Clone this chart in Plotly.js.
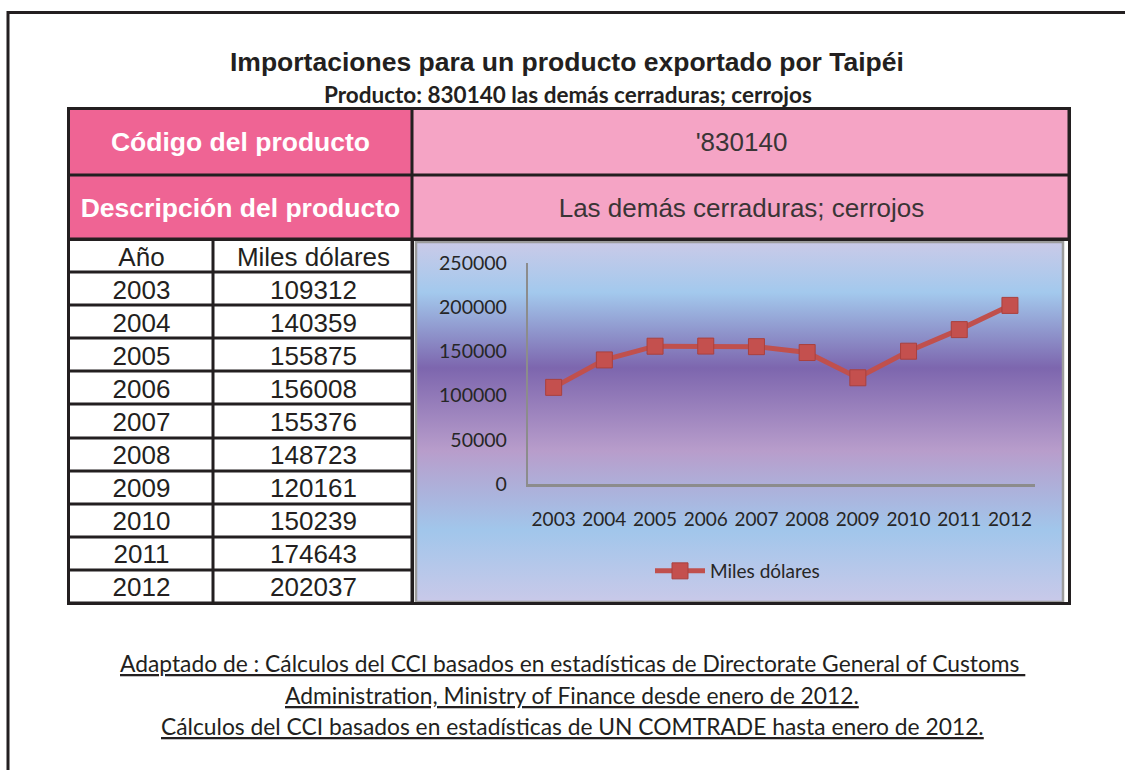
<!DOCTYPE html>
<html>
<head>
<meta charset="utf-8">
<script src="https://cdn.plot.ly/plotly-3.0.1.min.js"></script>
<style>
html,body{margin:0;padding:0;background:#ffffff;}
#chart{width:1125px;height:770px;}
</style>
</head>
<body>
<div id="chart"></div>
<script>
// ---------------- data ----------------
const years = ['2003','2004','2005','2006','2007','2008','2009','2010','2011','2012'];
const values = [109312,140359,155875,156008,155376,148723,120161,150239,174643,202037];
const seriesName = 'Miles dólares';
const tableHeaders = ['Año','Miles dólares'];
const infoLabels = ['Código del producto','Descripción del producto'];
const infoValues = ["'830140",'Las demás cerraduras; cerrojos'];
const titleText = 'Importaciones para un producto exportado por Taipéi';
const subtitleText = 'Producto: 830140 las demás cerraduras; cerrojos';
const sourceLines = [
  'Adaptado de : Cálculos del CCI basados en estadísticas de Directorate General of Customs\u00a0',
  'Administration, Ministry of Finance desde enero de 2012.',
  'Cálculos del CCI basados en estadísticas de UN COMTRADE hasta enero de 2012.'
];
const yTicks = [0,50000,100000,150000,200000,250000];

// ---------------- layout helpers ----------------
const W = 1125, H = 770;
const px = x => x / W;
const py = y => 1 - y / H;
const INK = '#231F20';
const ARIAL = 'Liberation Sans, Arial, sans-serif';
const CALIBRI = 'Lato, Open Sans, sans-serif';

// table geometry (pixels)
const T = {left:68.5, mid:412.5, right:1069.5, top:108.5, infoBottom:239.5, bottom:603.5, yearCol:145, row1:66.5};

// ---------------- traces ----------------
const infoYEdges = [0, T.row1, T.infoBottom - T.top];
const infoXEdges = [0, T.mid - T.left, T.right - T.left];

const infoLeft = {
  type:'heatmap', xaxis:'x2', yaxis:'y2', hoverinfo:'skip', showlegend:false, showscale:false,
  x: infoXEdges, y: infoYEdges,
  z: infoLabels.map(() => [1, null]),
  text: infoLabels.map(l => [l, '']),
  texttemplate:'<b>%{text}</b>',
  textfont:{family:ARIAL, size:26.5, color:'#FFFFFF'},
  colorscale:[[0,'#EF6494'],[1,'#EF6494']], zmin:0, zmax:1,
  xgap:3, ygap:3
};
const infoRight = {
  type:'heatmap', xaxis:'x2', yaxis:'y2', hoverinfo:'skip', showlegend:false, showscale:false,
  x: infoXEdges, y: infoYEdges,
  z: infoValues.map(() => [null, 1]),
  text: infoValues.map(v => ['', v]),
  texttemplate:'%{text}',
  textfont:{family:ARIAL, size:26, color:'#3A3536'},
  colorscale:[[0,'#F5A4C5'],[1,'#F5A4C5']], zmin:0, zmax:1,
  xgap:3, ygap:3
};

const dataRows = [tableHeaders].concat(years.map((yr, i) => [yr, String(values[i])]));
const dataTable = {
  type:'heatmap', xaxis:'x3', yaxis:'y3', hoverinfo:'skip', showlegend:false, showscale:false,
  x:[0, T.yearCol, T.mid - T.left],
  y: dataRows.map((_, i) => i).concat([dataRows.length]),
  z: dataRows.map(() => [0, 0]),
  text: dataRows,
  texttemplate:'%{text}',
  textfont:{family:ARIAL, size:26, color:INK},
  colorscale:[[0,'#FFFFFF'],[1,'#FFFFFF']], zmin:0, zmax:1,
  xgap:3, ygap:3
};

const line = {
  type:'scatter', mode:'lines+markers', name: seriesName,
  x: years, y: values, xaxis:'x', yaxis:'y', hoverinfo:'skip',
  line:{color:'#C0504D', width:5},
  marker:{symbol:'square', size:16, color:'#C4504E', line:{color:'#A9403E', width:1}}
};

// gradient background of chart area
const gradSvg = "<svg xmlns='http://www.w3.org/2000/svg' width='648' height='361' preserveAspectRatio='none'>" +
  "<defs><linearGradient id='g' x1='0' y1='0' x2='0' y2='1'>" +
  "<stop offset='0' stop-color='#CACAE8'/>" +
  "<stop offset='0.14' stop-color='#A3C9ED'/>" +
  "<stop offset='0.35' stop-color='#7D66AE'/>" +
  "<stop offset='0.58' stop-color='#B89DCB'/>" +
  "<stop offset='0.80' stop-color='#A1C6EB'/>" +
  "<stop offset='1' stop-color='#C9C9E9'/>" +
  "</linearGradient></defs><rect x='0' y='0' width='648' height='361' fill='url(#g)'/></svg>";

const G = {l:416, t:242, r:1063, b:602};

const rect = (x0,y0,x1,y1,color,width) => ({type:'rect', xref:'paper', yref:'paper',
  x0:px(x0), y0:py(y0), x1:px(x1), y1:py(y1), line:{color:color, width:width}, fillcolor:'rgba(0,0,0,0)'});

const note = (text, x, y, font) => ({text:text, xref:'paper', yref:'paper', x:px(x), y:py(y),
  xanchor:'center', yanchor:'middle', showarrow:false, font:font});

const layout = {
  width:W, height:H, margin:{l:0,r:0,t:0,b:0},
  paper_bgcolor:'#FFFFFF', plot_bgcolor:INK,
  showlegend:true,
  legend:{x:px(650), y:py(571), xanchor:'left', yanchor:'middle', bgcolor:'rgba(0,0,0,0)',
    font:{family:CALIBRI, size:19, color:'#262626'}, itemwidth:50},
  xaxis:{domain:[px(528.3), px(1035.3)], type:'category', range:[-0.5, 9.5], anchor:'y',
    showgrid:false, zeroline:false, showline:true, linecolor:'#8C8C8C', linewidth:3,
    ticks:'', ticklabelstandoff:16, tickfont:{family:CALIBRI, size:19, color:'#262626'}, fixedrange:true},
  yaxis:{domain:[py(484), py(263)], range:[0, 250000], tickvals:yTicks, tickformat:'d', anchor:'x',
    showgrid:false, zeroline:false, showline:true, linecolor:'#8C8C8C', linewidth:2.5,
    ticks:'', ticklabelstandoff:15, tickfont:{family:CALIBRI, size:19.5, color:'#262626'}, fixedrange:true},
  xaxis2:{domain:[px(T.left), px(T.right)], range:[0, T.right - T.left], visible:false, anchor:'y2', fixedrange:true},
  yaxis2:{domain:[py(T.infoBottom), py(T.top)], range:[T.infoBottom - T.top, 0], visible:false, anchor:'x2', fixedrange:true},
  xaxis3:{domain:[px(T.left), px(T.mid)], range:[0, T.mid - T.left], visible:false, anchor:'y3', fixedrange:true},
  yaxis3:{domain:[py(T.bottom), py(T.infoBottom)], range:[dataRows.length, 0], visible:false, anchor:'x3', fixedrange:true},
  images:[{source:'data:image/svg+xml;charset=utf-8,' + encodeURIComponent(gradSvg),
    xref:'paper', yref:'paper', x:px(G.l), y:py(G.t), sizex:px(G.r - G.l), sizey:(G.b - G.t)/H,
    xanchor:'left', yanchor:'top', sizing:'stretch', layer:'below'}],
  shapes:[
    {type:'path', xref:'paper', yref:'paper',
      path:'M' + px(8) + ',' + py(772) + ' L' + px(8) + ',' + py(12.5) + ' L' + px(1127) + ',' + py(12.5),
      line:{color:INK, width:3}},
    rect(G.l, G.t, G.r, G.b, '#9C9C9C', 2.5),
    rect(T.left, T.top, T.right, T.infoBottom, INK, 3),
    rect(T.left, T.infoBottom, T.mid, T.bottom, INK, 3),
    rect(T.mid, T.infoBottom, T.right, T.bottom, INK, 3)
  ],
  annotations:[
    note('<b>' + titleText + '</b>', 567, 62, {family:ARIAL, size:26.5, color:INK}),
    note('<b>' + subtitleText + '</b>', 568, 95, {family:CALIBRI, size:22.5, color:INK})
  ].concat(sourceLines.map((s, i) => note('<u>' + s + '</u>', 572, 663 + i * 31.5,
      {family:CALIBRI, size:22.8, color:INK})))
};

Plotly.newPlot('chart', [infoLeft, infoRight, dataTable, line], layout, {displayModeBar:false, staticPlot:true});
</script>
</body>
</html>
